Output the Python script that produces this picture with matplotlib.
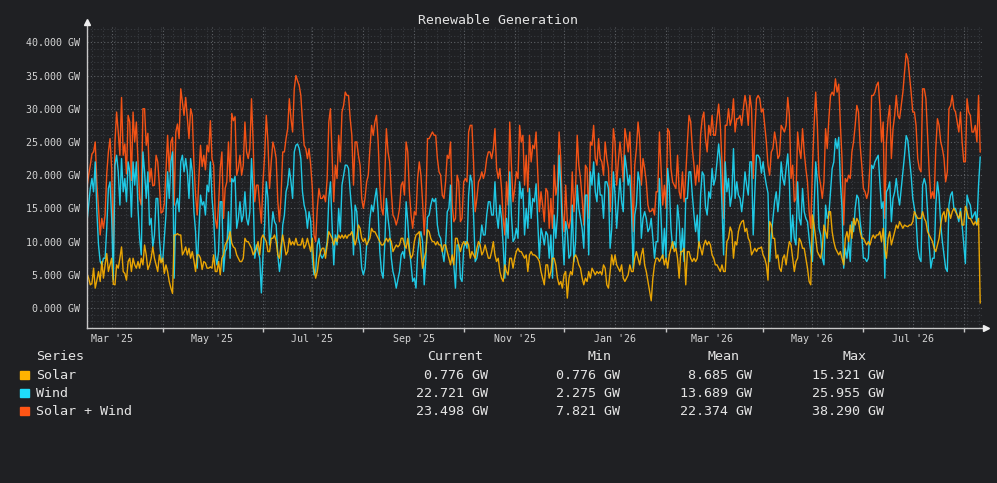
import numpy as np
import pandas as pd
import matplotlib
matplotlib.use('Agg')
import matplotlib.pyplot as plt
import matplotlib.dates as mdates
from matplotlib.ticker import FixedLocator, MultipleLocator, FuncFormatter
from matplotlib.patches import Rectangle
from matplotlib.lines import Line2D

plt.rcParams['font.family'] = ['DejaVu Sans Mono']

start_date = '2025-02-14'

# daily values in GW in blocks of ~3 months
solar_feb_may25 = [5.2, 4.5, 3.5, 3.7, 6.0, 3.0, 4.2, 5.5, 4.0, 7.0,
                   4.5, 6.5, 8.2, 5.5, 6.5, 7.5, 3.6, 3.5, 6.5, 6.0, 7.5,
                   9.2, 5.5, 5.2, 4.2, 7.0, 7.5, 5.5, 7.5, 6.5, 6.0,
                   7.0, 6.0, 7.5, 6.5, 9.5, 8.0, 5.8, 6.5, 7.5, 9.2,
                   7.5, 6.5, 5.5, 8.0, 6.8, 7.5, 5.2, 6.5, 5.5, 4.0,
                   3.0, 2.2, 11.0, 11.0, 11.2, 11.0, 11.0, 8.0, 8.5, 9.2,
                   8.0, 9.0, 7.5, 8.5, 7.2, 5.5, 8.0, 8.0, 7.5, 5.8,
                   7.0, 6.8, 6.0, 6.0, 6.2, 6.0, 8.0, 5.5, 5.5, 7.0,
                   5.0, 7.5, 8.0, 9.5, 10.0, 10.5, 11.5, 9.8, 9.2, 9.0]
wind_feb_may25 = [13.0, 15.5, 18.0, 19.5, 17.5, 22.0, 14.5, 9.5, 7.0, 6.5,
                  7.5, 7.5, 12.0, 18.0, 19.0, 13.5, 4.221, 21.5, 23.0, 20.5, 15.5,
                  22.5, 17.5, 19.5, 16.0, 22.0, 20.5, 13.7, 22.0, 18.5, 22.0,
                  15.0, 10.5, 8.0, 23.5, 20.5, 16.5, 20.5, 12.5, 13.5, 9.2,
                  11.0, 16.5, 16.5, 10.5, 7.5, 7.0, 10.5, 14.0, 20.5, 16.5,
                  22.0, 23.5, 4.5, 15.5, 16.5, 14.5, 22.0, 23.0, 20.5, 22.5,
                  20.5, 16.5, 22.5, 20.5, 14.5, 11.5, 6.0, 11.5, 17.0, 15.5,
                  16.0, 14.0, 18.5, 17.5, 22.0, 16.5, 13.5, 8.0, 6.5, 8.5,
                  16.0, 16.0, 5.5, 8.5, 9.0, 14.5, 7.5, 19.5, 19.0, 19.8]

solar_may_aug25 = [8.0, 7.5, 7.0, 7.0, 7.5, 10.5, 10.0, 10.0, 9.5, 9.0,
                   8.0, 8.5, 9.0, 10.0, 8.0, 10.5, 11.0, 10.5, 10.0, 8.5,
                   8.5, 10.5, 10.5, 11.0, 10.0, 8.0, 7.5, 9.5, 11.0, 9.5,
                   8.0, 8.5, 10.5, 9.5, 10.0, 9.5, 10.5, 9.5, 9.5, 9.5, 10.5,
                   9.0, 9.5, 10.5, 9.5, 8.5, 10.5, 6.0, 4.5, 5.5, 7.5,
                   8.5, 9.0, 9.0, 7.5, 9.5, 11.5, 11.0, 10.5, 9.5, 10.5,
                   10.0, 11.0, 10.5, 11.0, 10.5, 11.0, 10.5, 11.0, 11.0, 11.5,
                   10.5, 9.5, 10.5, 12.5, 12.0, 10.5, 10.0, 10.5, 9.5, 10.0,
                   10.5, 12.0, 11.5, 11.5, 11.0, 10.5, 10.0, 9.5, 9.5, 10.0]
wind_may_aug25 = [12.0, 13.5, 16.0, 13.0, 14.0, 17.5, 13.5, 12.5, 14.5, 22.5,
                  17.0, 7.5, 9.5, 8.5, 7.5, 2.275, 8.0, 12.5, 19.0, 16.5,
                  9.5, 11.5, 14.5, 13.0, 12.5, 8.0, 5.5, 7.5, 12.5, 14.0,
                  17.5, 18.5, 21.0, 19.0, 16.5, 23.5, 24.5, 24.7, 24.0, 22.5, 17.5,
                  15.5, 14.5, 12.0, 14.5, 13.0, 7.5, 5.0, 5.5, 9.5, 10.5,
                  8.0, 7.5, 8.0, 8.5, 10.0, 16.5, 19.0, 12.5, 6.5, 11.0,
                  9.5, 15.0, 11.5, 18.5, 20.0, 21.5, 21.5, 21.0, 17.5, 14.5,
                  8.0, 15.5, 14.5, 10.5, 9.5, 6.0, 5.0, 6.0, 9.5, 10.0,
                  13.5, 15.5, 14.5, 16.5, 18.0, 14.5, 8.5, 5.5, 4.5, 9.5]

solar_aug_nov25 = [10.5, 10.0, 10.5, 10.0, 8.5, 9.0, 9.5, 9.2, 9.5, 10.5,
                   10.5, 9.5, 9.0, 10.5, 8.5, 7.5, 8.0, 10.0, 11.0, 11.2,
                   11.5, 8.5, 6.0, 7.5, 8.5, 11.8, 11.5, 10.5, 10.0, 10.0, 9.5,
                   10.0, 9.5, 9.5, 8.5, 9.5, 9.5, 8.5, 7.5, 6.5, 8.0,
                   6.5, 10.5, 10.5, 9.5, 8.5, 9.5, 10.0, 9.5, 10.0, 9.5,
                   7.5, 8.5, 8.0, 7.5, 9.0, 10.0, 9.5, 8.0, 8.5, 9.5,
                   8.5, 7.5, 7.5, 8.5, 10.0, 8.0, 7.0, 7.5, 5.5, 4.5,
                   4.0, 6.5, 5.5, 5.0, 7.5, 7.5, 6.0, 7.5, 8.5, 9.0,
                   8.5, 8.5, 8.0, 7.5, 8.0, 5.5, 8.0, 8.5, 8.0, 8.0]
wind_aug_nov25 = [16.5, 13.5, 11.5, 7.5, 5.5, 4.5, 3.0, 4.3, 5.5, 8.0,
                  8.5, 7.5, 16.0, 13.0, 9.0, 6.5, 4.0, 4.5, 3.0, 8.3,
                  10.5, 11.5, 10.0, 3.5, 7.5, 13.7, 14.0, 15.5, 16.5, 16.0, 16.5,
                  12.5, 11.0, 10.5, 8.5, 7.0, 9.5, 14.5, 15.0, 18.5, 7.5,
                  6.5, 3.0, 9.5, 9.5, 4.5, 4.0, 9.0, 10.0, 9.0, 17.0,
                  20.0, 19.0, 14.0, 7.0, 7.5, 9.0, 10.0, 12.5, 11.0, 11.0,
                  14.0, 16.0, 16.0, 14.0, 14.0, 19.0, 14.0, 12.0, 15.5, 13.5,
                  9.5, 4.5, 13.5, 10.5, 20.5, 14.0, 10.0, 10.5, 12.0, 10.5,
                  19.0, 16.5, 18.0, 11.0, 15.0, 12.0, 18.0, 13.5, 16.5, 16.0]

solar_nov25_feb26 = [7.8, 7.5, 7.0, 5.5, 4.5, 3.5, 6.5, 6.5, 4.5, 5.5,
                     7.5, 7.5, 6.5, 4.5, 3.5, 4.0, 3.0, 5.0, 5.5, 1.5,
                     4.5, 5.5, 5.0, 7.5, 8.0, 7.5, 6.5, 6.0, 4.5, 3.5,
                     4.5, 4.0, 5.5, 4.5, 6.0, 5.5, 5.0, 5.5, 5.2, 5.5,
                     5.0, 6.5, 6.0, 3.5, 3.0, 5.5, 8.0, 6.5, 8.0, 6.5,
                     6.0, 5.5, 6.5, 4.5, 4.0, 4.5, 5.0, 6.5, 5.5, 5.5, 7.5,
                     8.5, 7.5, 6.5, 8.0, 9.0, 6.5, 5.5, 4.0, 2.5, 1.1,
                     4.5, 6.5, 7.5, 7.5, 7.0, 7.5, 8.0, 6.5, 7.5, 6.0,
                     8.0, 9.0, 10.0, 8.5, 9.0, 7.5, 4.5, 8.5, 8.5, 9.0]
wind_nov25_feb26 = [18.7, 13.0, 7.5, 12.0, 11.0, 9.5, 11.5, 11.0, 7.5, 11.0,
                    4.5, 14.0, 10.5, 14.0, 23.0, 18.5, 11.5, 6.5, 13.0, 11.5,
                    7.5, 8.0, 15.5, 7.0, 10.0, 18.5, 15.0, 13.5, 12.0, 9.0,
                    17.0, 17.0, 8.0, 20.5, 18.5, 22.0, 17.5, 16.0, 20.3, 17.0,
                    17.0, 13.5, 19.0, 19.0, 18.0, 9.0, 12.0, 20.5, 17.0, 12.0,
                    16.0, 19.5, 16.0, 14.5, 23.0, 21.0, 18.5, 20.0, 14.5, 6.0, 14.0,
                    15.5, 20.5, 19.0, 10.5, 13.5, 14.5, 13.5, 11.5, 12.0, 13.5,
                    10.5, 7.5, 10.0, 10.0, 19.5, 13.5, 7.5, 12.0, 7.5, 21.0,
                    18.5, 12.0, 9.0, 10.0, 9.0, 15.5, 13.0, 8.0, 12.0, 7.0]

solar_feb_may26 = [3.5, 8.5, 8.5, 7.5, 7.0, 7.5, 7.0, 7.5, 10.0, 9.0,
                   8.0, 9.5, 10.2, 9.5, 10.0, 9.5, 8.0, 7.5, 6.5, 6.5,
                   6.0, 5.5, 6.5, 5.5, 5.5, 10.0, 10.5, 12.2, 11.5, 7.5,
                   10.0, 9.5, 11.5, 12.5, 13.0, 13.2, 11.5, 12.0, 10.5, 10.0,
                   8.0, 8.5, 9.0, 8.5, 9.0, 9.0, 9.2, 8.0, 7.5, 6.5, 4.2,
                   13.0, 12.5, 10.5, 10.5, 7.5, 8.0, 6.0, 5.5, 7.5, 8.0,
                   6.5, 8.5, 10.0, 9.5, 7.5, 5.5, 7.0, 7.5, 10.5, 10.0,
                   9.0, 9.0, 7.5, 6.0, 4.0, 3.5, 14.0, 12.5, 10.5, 8.5,
                   8.0, 7.5, 9.0, 12.5, 11.5, 10.5, 14.5, 14.5, 11.5, 10.0]
wind_feb_may26 = [16.5, 16.5, 20.5, 20.5, 17.0, 14.0, 11.5, 14.0, 9.0, 17.0,
                  20.5, 20.0, 15.3, 14.0, 17.5, 16.5, 21.0, 18.5, 19.5, 22.0,
                  24.7, 22.0, 15.5, 8.0, 22.0, 17.5, 19.5, 15.3, 17.0, 24.0,
                  16.5, 19.0, 17.0, 16.5, 14.5, 16.8, 20.5, 18.5, 17.0, 22.0,
                  22.0, 11.0, 17.5, 23.0, 23.0, 22.5, 20.3, 22.0, 20.0, 18.5, 17.3,
                  7.0, 11.0, 13.5, 16.0, 17.5, 14.5, 17.0, 22.0, 19.5, 18.5,
                  21.0, 23.2, 19.0, 10.0, 14.0, 10.5, 9.5, 19.0, 13.5, 12.5,
                  18.0, 14.5, 13.5, 13.0, 10.5, 8.5, 7.0, 15.0, 22.0, 19.0,
                  12.0, 11.0, 7.5, 6.5, 15.5, 13.5, 14.0, 17.5, 21.0, 22.0]

solar_may_aug26 = [9.0, 8.5, 8.0, 8.5, 7.5, 6.5, 10.5, 11.5, 10.0, 12.5,
                   10.5, 13.5, 12.5, 13.5, 13.0, 11.5, 10.5, 10.5, 10.0, 9.5,
                   10.0, 9.5, 10.5, 11.0, 10.5, 11.0, 11.0, 11.5, 10.0, 12.0, 9.0,
                   7.5, 10.5, 11.5, 9.5, 10.5, 11.5, 12.5, 12.0, 13.0, 12.5,
                   12.0, 12.5, 12.335, 12.25, 12.5, 12.5, 13.0, 14.5, 14.0, 13.5,
                   13.5, 13.5, 14.5, 13.5, 13.0, 11.5, 11.0, 10.5, 10.0, 9.0,
                   8.5, 9.5, 10.5, 12.5, 14.0, 14.5, 13.0, 15.0, 14.5, 13.5,
                   14.5, 15.0, 14.5, 14.0, 13.5, 14.5, 12.5, 12.5, 15.321, 14.5, 13.5,
                   13.5, 13.0, 12.5, 13.0, 12.5, 13.5, 0.776]
wind_may_aug26 = [25.5, 24.0, 25.7, 19.0, 15.0, 6.0, 9.0, 7.5, 10.0, 7.0,
                  13.0, 11.5, 15.0, 17.0, 16.5, 13.0, 11.0, 7.5, 7.5, 7.0,
                  7.5, 12.0, 21.5, 21.0, 22.0, 22.5, 23.0, 19.0, 15.0, 16.0, 4.5,
                  17.5, 18.0, 19.0, 13.0, 16.5, 17.5, 19.5, 17.0, 15.5, 18.0,
                  20.5, 23.0, 25.955, 25.25, 22.5, 20.0, 16.5, 15.0, 13.5, 9.0,
                  7.5, 7.0, 18.5, 19.5, 18.5, 14.5, 9.5, 6.0, 7.5, 7.5,
                  15.5, 19.0, 17.0, 12.5, 10.0, 8.0, 6.0, 5.5, 15.5, 17.0,
                  17.5, 15.0, 15.0, 14.0, 13.0, 15.0, 12.5, 9.5, 6.7, 17.0, 16.0,
                  15.5, 13.5, 14.0, 14.5, 12.5, 18.5, 22.721]

series_names = ['Solar', 'Wind', 'Solar + Wind']
series_colors = ['#ffb300', '#1fdcfa', '#ff5515']
stat_names = ['Current', 'Min', 'Mean', 'Max']
stat_values = [[0.776, 0.776, 8.685, 15.321],
               [22.721, 2.275, 13.689, 25.955],
               [23.498, 7.821, 22.374, 38.290]]

solar = np.array(solar_feb_may25 + solar_may_aug25 + solar_aug_nov25 +
                 solar_nov25_feb26 + solar_feb_may26 + solar_may_aug26)
wind = np.array(wind_feb_may25 + wind_may_aug25 + wind_aug_nov25 +
                wind_nov25_feb26 + wind_feb_may26 + wind_may_aug26)
total = solar + wind
dates = pd.date_range(start_date, periods=len(solar), freq='D')

W, H = 997, 483
bg = '#1f2023'
fg = '#e4e4e4'


def fx(x):
    return x / W


def fy(y):
    return 1 - y / H


fig = plt.figure(figsize=(W / 100, H / 100), dpi=100, facecolor=bg)
ax = fig.add_axes([fx(87), fy(328), fx(983) - fx(87), fy(27) - fy(328)])
ax.set_facecolor(bg)

ax.plot(dates, total, color=series_colors[2], lw=1.0, alpha=0.95, zorder=3)
ax.plot(dates, wind, color=series_colors[1], lw=1.0, alpha=0.9, zorder=4)
ax.plot(dates, solar, color=series_colors[0], lw=1.0, alpha=0.9, zorder=5)

ax.set_xlim(dates[0], dates[0] + pd.Timedelta(days=544.7))
ax.set_ylim(-3.0, 42.3)

months = pd.date_range('2025-03-01', '2026-08-01', freq='MS')
ax.xaxis.set_major_locator(FixedLocator(mdates.date2num(months)))
ax.xaxis.set_minor_locator(mdates.WeekdayLocator(byweekday=mdates.MO))


def month_label(v, pos):
    d = mdates.num2date(v)
    return d.strftime("%b '%y") if d.month % 2 == 1 else ''


ax.xaxis.set_major_formatter(FuncFormatter(month_label))
ax.yaxis.set_major_locator(FixedLocator(np.arange(0, 41, 5)))
ax.yaxis.set_minor_locator(MultipleLocator(1))
ax.yaxis.set_major_formatter(FuncFormatter(lambda v, p: f'{v:.3f} GW'))

ax.tick_params(axis='x', which='major', length=3, width=1, color='#c8c8c8',
               labelsize=7.2, labelcolor='#d4d4d4', pad=1.5)
ax.tick_params(axis='y', which='major', length=0, labelsize=7.2,
               labelcolor='#d4d4d4', pad=5)
ax.tick_params(which='minor', length=0)
for tick, m in zip(ax.xaxis.get_major_ticks(), months):
    if m.month % 2 == 1:
        tick.tick1line.set_markersize(0)

ax.set_axisbelow(True)
ax.grid(which='major', color='#5e6166', ls=(0, (1, 2)), lw=0.8)
ax.grid(which='minor', color='#393c41', ls=(0, (1, 2)), lw=0.8)
for s in ax.spines.values():
    s.set_visible(False)

axis_col = '#c8c8c8'
fig.add_artist(Line2D([fx(87), fx(87)], [fy(328), fy(23)], color=axis_col, lw=1,
                      transform=fig.transFigure))
fig.add_artist(Line2D([fx(87)], [fy(21.5)], marker='^', markersize=5, color='#eeeeee',
                      ls='none', transform=fig.transFigure))
fig.add_artist(Line2D([fx(87), fx(984)], [fy(328), fy(328)], color=axis_col, lw=1,
                      transform=fig.transFigure))
fig.add_artist(Line2D([fx(986)], [fy(328)], marker='>', markersize=5, color='#eeeeee',
                      ls='none', transform=fig.transFigure))

fig.text(fx(498), fy(23.5), 'Renewable Generation', ha='center', va='baseline',
         fontsize=9.5, color=fg)

# legend table
fs = 9.6
header_x = [427, 587, 707, 842]
value_x = [488, 620, 752, 884]
fig.text(fx(36), fy(360.5), 'Series', fontsize=fs, color=fg, va='baseline')
for hx, name in zip(header_x, stat_names):
    fig.text(fx(hx), fy(360.5), name, fontsize=fs, color=fg, va='baseline')
for i, name in enumerate(series_names):
    yc = 374.5 + 18 * i
    fig.add_artist(Rectangle((fx(20), fy(yc + 4)), 9 / W, 8 / H, color=series_colors[i],
                             transform=fig.transFigure))
    fig.text(fx(36), fy(yc + 4.5), name, fontsize=fs, color=fg, va='baseline')
    for vx, v in zip(value_x, stat_values[i]):
        fig.text(fx(vx), fy(yc + 4.5), f'{v:.3f} GW', fontsize=fs, color=fg,
                 va='baseline', ha='right')

fig.savefig('out.png', dpi=100, facecolor=bg)
